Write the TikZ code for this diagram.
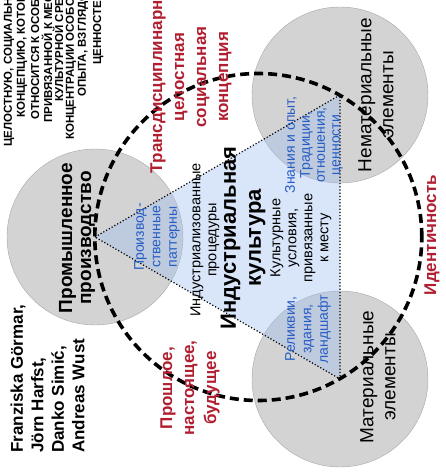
\documentclass[tikz,border=0pt]{standalone}
\usepackage{fontspec}
\setmainfont{Liberation Sans}
\usepackage{xcolor}
\definecolor{redtxt}{RGB}{176,30,48}
\definecolor{bluetxt}{RGB}{38,92,196}
\definecolor{bubblegray}{RGB}{211,211,211}
\definecolor{bandblue}{RGB}{160,190,240}

\begin{document}
\begin{tikzpicture}[x=1pt,y=-1pt,
	bubble/.style={circle,minimum size=176pt,inner sep=0pt,fill=bubblegray,draw=gray!70,line width=0.4pt},
	ring/.style={circle,minimum size=327pt,inner sep=0pt,draw=black,line width=3.6pt,dash pattern=on 9pt off 5pt},
	band/.style={fill=bandblue,fill opacity=0.4,draw=black,dotted,line width=1.2pt},
	vtext/.style={rotate=90,align=center,inner sep=0pt},
	capsline/.style={rotate=90,anchor=west,inner sep=0pt,font=\fontsize{11.5}{12}\selectfont\bfseries},
	redlbl/.style={vtext,text=redtxt,font=\fontsize{17}{22}\selectfont\bfseries},
	bluelbl/.style={vtext,text=bluetxt,font=\fontsize{14}{16.5}\selectfont}]
	\useasboundingbox (0,0) rectangle (446,473);
	\clip (0,0) rectangle (446,473);

	\node[bubble] (prom) at (95,237) {};
	\node[bubble] (nemat) at (340,95) {};
	\node[bubble] (mat) at (340,379) {};
	\draw[band] (prom.center) -- (nemat.center) -- (mat.center) -- cycle;
	\node[ring] (ring) at (258.3,237) {};

	\node[capsline] (c1) at (9,147) {ЦЕЛОСТНУЮ, СОЦИАЛЬНУЮ};
	\node[capsline] (c2) at (22,118) {КОНЦЕПЦИЮ, КОТОРАЯ};
	\node[capsline] (c3) at (34,120) {ОТНОСИТСЯ К ОСОБОЙ};
	\node[capsline] (c4) at (47,123) {ПРИВЯЗАННОЙ К МЕСТУ};
	\node[capsline] (c5) at (59,102) {КУЛЬТУРНОЙ СРЕДЕ};
	\node[capsline] (c6) at (71,140) {КОНЦЕНТРАЦИИ ОСОБОГО};
	\node[capsline] (c7) at (83,97) {ОПЫТА, ВЗГЛЯДОВ};
	\node[capsline] (c8) at (97,65) {ЦЕННОСТЕЙ};

	\node[redlbl] (trans) at (191,77) {Трансдисциплинарная\\целостная\\социальная\\концепция};
	\node[redlbl] (time) at (190,388) {Прошлое,\\настоящее,\\будущее};
	\node[redlbl] (ident) at (432,235) {Идентичность};

	\node[rotate=90,anchor=west,align=left,inner sep=0pt,font=\fontsize{17}{20.5}\selectfont\bfseries] (authors) at (47.5,453) {Franziska Görmar,\\Jörn Harfst,\\Danko Simić,\\Andreas Wust};

	\node[vtext,font=\fontsize{19}{19}\selectfont\bfseries] (promtxt) at (77,238) {Промышленное\\производство};
	\node[vtext,font=\fontsize{19}{22}\selectfont] (nemattxt) at (376,95) {Нематериальные\\элементы};
	\node[vtext,font=\fontsize{19}{22}\selectfont] (mattxt) at (378,377) {Материальные\\элементы};
	\node[vtext,font=\fontsize{22}{25}\selectfont\bfseries] (culture) at (243,238) {Индустриальная\\культура};
	\node[vtext,font=\fontsize{14.5}{16}\selectfont] (proc) at (205,240) {Индустриализованные\\процедуры};
	\node[vtext,font=\fontsize{14.5}{16}\selectfont] (cond) at (301,238) {Культурные\\условия,\\привязанные\\к месту};

	\node[bluelbl] (patt) at (157,237) {Производ-\\ственные\\паттерны};
	\node[bluelbl,font=\fontsize{14}{15}\selectfont] (know) at (314,145) {Знания и опыт,\\Традиции,\\отношения,\\ценности};
	\node[bluelbl] (relic) at (308,329) {Реликвии,\\здания,\\ландшафт};
\end{tikzpicture}
\end{document}
